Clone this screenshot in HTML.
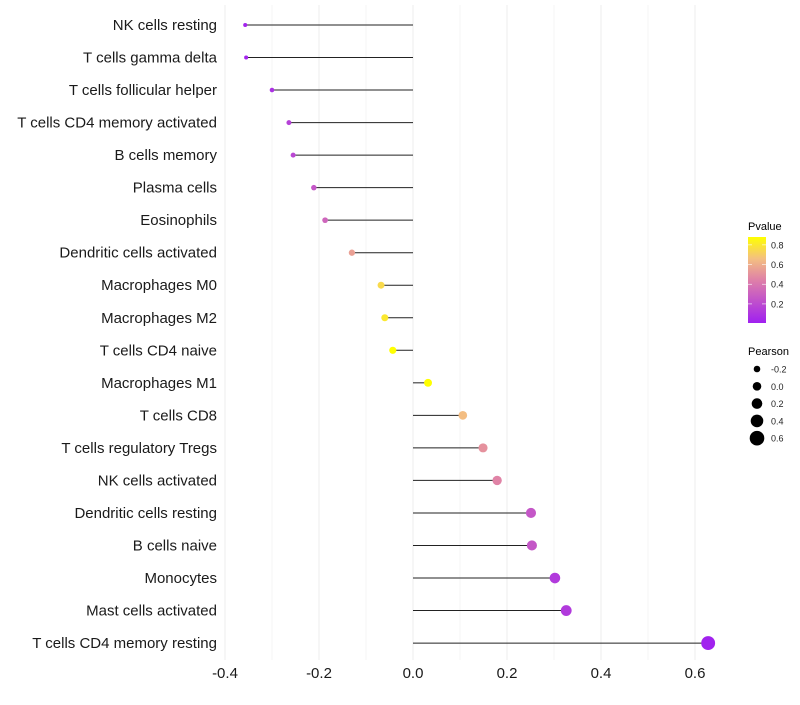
<!DOCTYPE html>
<html><head><meta charset="utf-8"><style>
body{margin:0;background:#fff;font-family:"Liberation Sans",sans-serif}
</style></head><body>
<svg id="c" width="800" height="700" xmlns="http://www.w3.org/2000/svg">
<defs><linearGradient id="pg" x1="0" y1="1" x2="0" y2="0">
<stop offset="0" stop-color="#a020f0"/><stop offset="0.5" stop-color="#df80a8"/><stop offset="0.75" stop-color="#f4c080"/><stop offset="1" stop-color="#ffff00"/></linearGradient></defs>
<g id="grid"></g><g id="marks"></g><g id="labels"></g><g id="legend"></g>
</svg>
<script>
const categories=["NK cells resting","T cells gamma delta","T cells follicular helper","T cells CD4 memory activated","B cells memory","Plasma cells","Eosinophils","Dendritic cells activated","Macrophages M0","Macrophages M2","T cells CD4 naive","Macrophages M1","T cells CD8","T cells regulatory  Tregs ","NK cells activated","Dendritic cells resting","B cells naive","Monocytes","Mast cells activated","T cells CD4 memory resting"];
const pearson=[-0.357,-0.355,-0.30,-0.264,-0.255,-0.211,-0.187,-0.130,-0.068,-0.060,-0.043,0.032,0.106,0.149,0.179,0.251,0.253,0.302,0.326,0.628];
const pvalues=[0.02,0.02,0.08,0.15,0.18,0.25,0.32,0.55,0.75,0.8,0.88,0.9,0.65,0.5,0.45,0.25,0.25,0.12,0.12,0.01];
const xTicks=[-0.4,-0.2,0,0.2,0.4,0.6];
const sizeLegend=[-0.2,0,0.2,0.4,0.6];
const pTicks=[0.2,0.4,0.6,0.8];
const NS="http://www.w3.org/2000/svg";
const X=v=>413+v*470;
const Y=i=>25+i*32.53;
const R=v=>1.8+(v+0.4)*5;
const P=p=>323-(p-0.006)*(86/0.874);
function mk(t,a,par){const e=document.createElementNS(NS,t);for(const k in a)e.setAttribute(k,a[k]);document.getElementById(par).appendChild(e);return e;}
function col(p){const s=[[0,[160,32,240]],[0.44,[223,128,168]],[0.66,[244,192,128]],[0.88,[255,255,0]]];
 p=Math.max(0,Math.min(0.88,p));for(let i=1;i<s.length;i++){if(p<=s[i][0]){const t=(p-s[i-1][0])/(s[i][0]-s[i-1][0]);const a=s[i-1][1],b=s[i][1];return `rgb(${a.map((v,j)=>Math.round(v+(b[j]-v)*t)).join(",")})`;}}return "rgb(255,255,0)";}
for(let v=-0.4;v<=0.651;v+=0.1){const l=mk("line",{x1:X(v),x2:X(v),y1:5,y2:660,stroke:"#f0f0f0","stroke-width":Math.abs(Math.round(v*10))%2===0?1.2:0.6},"grid");
}
categories.forEach((c,i)=>{
 const y=Y(i);
 const ln=mk("line",{x1:X(0),x2:X(pearson[i]),y1:y,y2:y,stroke:"#222","stroke-width":1},"marks");
 
 const d=mk("circle",{cx:X(pearson[i]),cy:y,r:R(pearson[i]),fill:col(pvalues[i])},"marks");
 
 const t=mk("text",{x:217,y:y+5,"text-anchor":"end","font-size":15,fill:"#1a1a1a"},"labels");t.textContent=c;
 
});
xTicks.forEach(v=>{const t=mk("text",{x:X(v),y:678,"text-anchor":"middle","font-size":15,fill:"#1a1a1a"},"labels");t.textContent=v===0?"0.0":v.toFixed(1);
});
let t=mk("text",{x:748,y:230,"font-size":11,fill:"#000"},"legend");t.textContent="Pvalue";

let r=mk("rect",{x:748,y:237,width:18,height:86,fill:"url(#pg)"},"legend");

pTicks.forEach(p=>{const y=P(p);mk("line",{x1:748,x2:752,y1:y,y2:y,stroke:"#fff","stroke-width":0.6},"legend");mk("line",{x1:762,x2:766,y1:y,y2:y,stroke:"#fff","stroke-width":0.6},"legend");
const tt=mk("text",{x:771,y:y+3.5,"font-size":9,fill:"#222"},"legend");tt.textContent=p.toFixed(1);
});
t=mk("text",{x:748,y:355,"font-size":11,fill:"#000"},"legend");t.textContent="Pearson";

sizeLegend.forEach((v,i)=>{const y=369+i*17.3;const c=mk("circle",{cx:757,cy:y,r:R(v)+0.5,fill:"#000"},"legend");

const tt=mk("text",{x:771,y:y+3.5,"font-size":9,fill:"#222"},"legend");tt.textContent=v.toFixed(1);
});
</script>
</body></html>
